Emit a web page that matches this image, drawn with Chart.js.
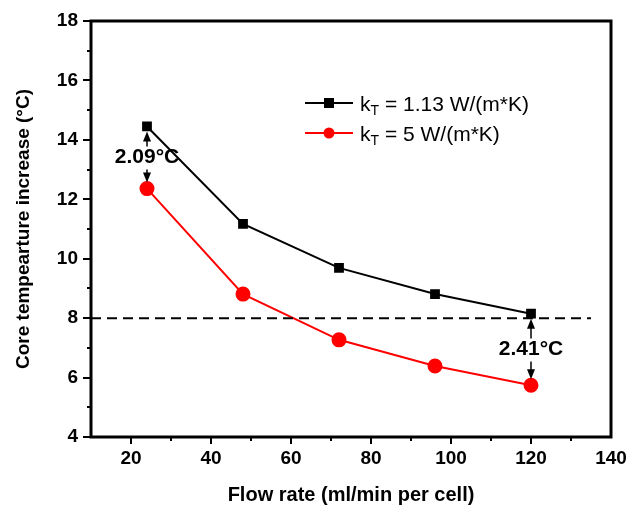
<!DOCTYPE html>
<html>
<head>
<meta charset="utf-8">
<script src="https://cdn.jsdelivr.net/npm/chart.js@4"></script>
<style>
  html, body { margin: 0; padding: 0; background: #fff; }
  canvas { display: block; }
</style>
</head>
<body>
<canvas id="chart" width="629" height="508"></canvas>
<script>
const flowRates = [24, 48, 72, 96, 120];
const tempLowK = [14.45, 11.17, 9.69, 8.81, 8.15];
const tempHighK = [12.36, 8.81, 7.27, 6.39, 5.74];
const limitX = [10, 135];
const limitY = [8, 8];
const seriesNames = [["k", "T", " = 1.13 W/(m*K)"], ["k", "T", " = 5 W/(m*K)"]];
const diffAt = [24, 120];
const diffTop = [14.45, 8.15];
const diffBottom = [12.36, 5.74];
const diffLabels = ["2.09°C", "2.41°C"];

const FONT = "'Liberation Sans', Arial, sans-serif";

function drawArrow(ctx, x, y1, y2) {
  // shaft from y1 to y2, head at y2
  const dir = y2 > y1 ? 1 : -1;
  ctx.beginPath();
  ctx.moveTo(x, y1);
  ctx.lineTo(x, y2 - dir * 6);
  ctx.stroke();
  ctx.beginPath();
  ctx.moveTo(x, y2);
  ctx.lineTo(x - 4, y2 - dir * 10);
  ctx.lineTo(x + 4, y2 - dir * 10);
  ctx.closePath();
  ctx.fill();
}

const decorPlugin = {
  id: "decor",
  afterDatasetsDraw(chart) {
    const ctx = chart.ctx;
    const area = chart.chartArea;
    const xs = chart.scales.x, ys = chart.scales.y;
    ctx.save();
    ctx.strokeStyle = "#000";
    ctx.fillStyle = "#000";

    // ticks
    ctx.lineWidth = 2;
    for (let v = 4; v <= 18; v += 1) {
      const py = Math.round(ys.getPixelForValue(v));
      const len = v % 2 === 0 ? 8 : 4;
      ctx.beginPath();
      ctx.moveTo(area.left, py);
      ctx.lineTo(area.left - len, py);
      ctx.stroke();
    }
    for (let v = 20; v <= 130; v += 10) {
      const px = Math.round(xs.getPixelForValue(v));
      const len = v % 20 === 0 ? 7 : 4;
      ctx.beginPath();
      ctx.moveTo(px, area.bottom);
      ctx.lineTo(px, area.bottom + len);
      ctx.stroke();
    }

    // frame
    ctx.lineWidth = 3;
    ctx.strokeRect(area.left, area.top, area.right - area.left, area.bottom - area.top);

    // difference annotations
    ctx.lineWidth = 1.5;
    ctx.font = "bold 21px " + FONT;
    ctx.textAlign = "center";
    ctx.textBaseline = "middle";
    for (let i = 0; i < diffAt.length; i++) {
      const px = xs.getPixelForValue(diffAt[i]);
      const top = ys.getPixelForValue(diffTop[i]);
      const bot = ys.getPixelForValue(diffBottom[i]);
      const mid = (top + bot) / 2;
      ctx.fillText(diffLabels[i], px, mid);
      drawArrow(ctx, px, mid - 11, top + 5);
      drawArrow(ctx, px, mid + 12, bot - 6);
    }

    // legend
    const rows = [
      { y: 103, color: "#000", style: "rect" },
      { y: 133, color: "#f00", style: "circle" }
    ];
    rows.forEach((r, i) => {
      ctx.strokeStyle = r.color;
      ctx.fillStyle = r.color;
      ctx.lineWidth = 2;
      ctx.beginPath();
      ctx.moveTo(305, r.y);
      ctx.lineTo(353, r.y);
      ctx.stroke();
      if (r.style === "rect") {
        ctx.fillRect(324, r.y - 5, 10, 10);
      } else {
        ctx.beginPath();
        ctx.arc(329, r.y, 5.5, 0, Math.PI * 2);
        ctx.fill();
      }
      const parts = seriesNames[i];
      ctx.fillStyle = "#000";
      ctx.textAlign = "left";
      ctx.textBaseline = "alphabetic";
      let tx = 360;
      ctx.font = "21px " + FONT;
      ctx.fillText(parts[0], tx, r.y + 8);
      tx += ctx.measureText(parts[0]).width;
      ctx.font = "14px " + FONT;
      ctx.fillText(parts[1], tx, r.y + 12);
      tx += ctx.measureText(parts[1]).width;
      ctx.font = "21px " + FONT;
      ctx.fillText(parts[2], tx, r.y + 8);
    });
    ctx.restore();
  }
};

new Chart(document.getElementById("chart"), {
  type: "line",
  data: {
    datasets: [
      {
        label: "limit",
        data: limitX.map((x, i) => ({ x, y: limitY[i] })),
        borderColor: "#000",
        borderWidth: 2,
        borderDash: [10, 6],
        pointRadius: 0
      },
      {
        label: "kT = 1.13 W/(m*K)",
        data: flowRates.map((x, i) => ({ x, y: tempLowK[i] })),
        borderColor: "#000",
        backgroundColor: "#000",
        borderWidth: 2,
        pointStyle: "rect",
        pointRadius: 5.5,
        tension: 0
      },
      {
        label: "kT = 5 W/(m*K)",
        data: flowRates.map((x, i) => ({ x, y: tempHighK[i] })),
        borderColor: "#f00",
        backgroundColor: "#f00",
        borderWidth: 2,
        pointStyle: "circle",
        pointRadius: 6.5,
        tension: 0
      }
    ]
  },
  options: {
    responsive: false,
    devicePixelRatio: 1,
    animation: false,
    layout: { padding: { top: 21, right: 18, left: 0, bottom: 0 } },
    plugins: {
      legend: { display: false },
      tooltip: { enabled: false }
    },
    scales: {
      x: {
        type: "linear",
        min: 10,
        max: 140,
        afterFit: s => { s.height = 71; s.paddingLeft = 0; s.paddingRight = 0; },
        grid: { display: false, drawTicks: false },
        border: { display: false },
        ticks: {
          stepSize: 10,
          autoSkip: false,
          maxRotation: 0,
          padding: 10,
          color: "#000",
          font: { family: FONT, size: 19, weight: "bold" },
          callback: v => (v % 20 === 0 ? v : "")
        },
        title: {
          display: true,
          text: "Flow rate (ml/min per cell)",
          color: "#000",
          font: { family: FONT, size: 20, weight: "bold" },
          padding: { top: 0, bottom: 1 }
        }
      },
      y: {
        min: 4,
        max: 18,
        afterFit: s => { s.width = 91; s.paddingTop = 0; s.paddingBottom = 0; },
        grid: { display: false, drawTicks: false },
        border: { display: false },
        ticks: {
          stepSize: 2,
          padding: 13,
          color: "#000",
          font: { family: FONT, size: 19, weight: "bold" }
        },
        title: {
          display: true,
          text: "Core tempearture increase (°C)",
          color: "#000",
          font: { family: FONT, size: 19, weight: "bold" },
          padding: { top: 12, bottom: 0 }
        }
      }
    }
  },
  plugins: [decorPlugin]
});
</script>
</body>
</html>
